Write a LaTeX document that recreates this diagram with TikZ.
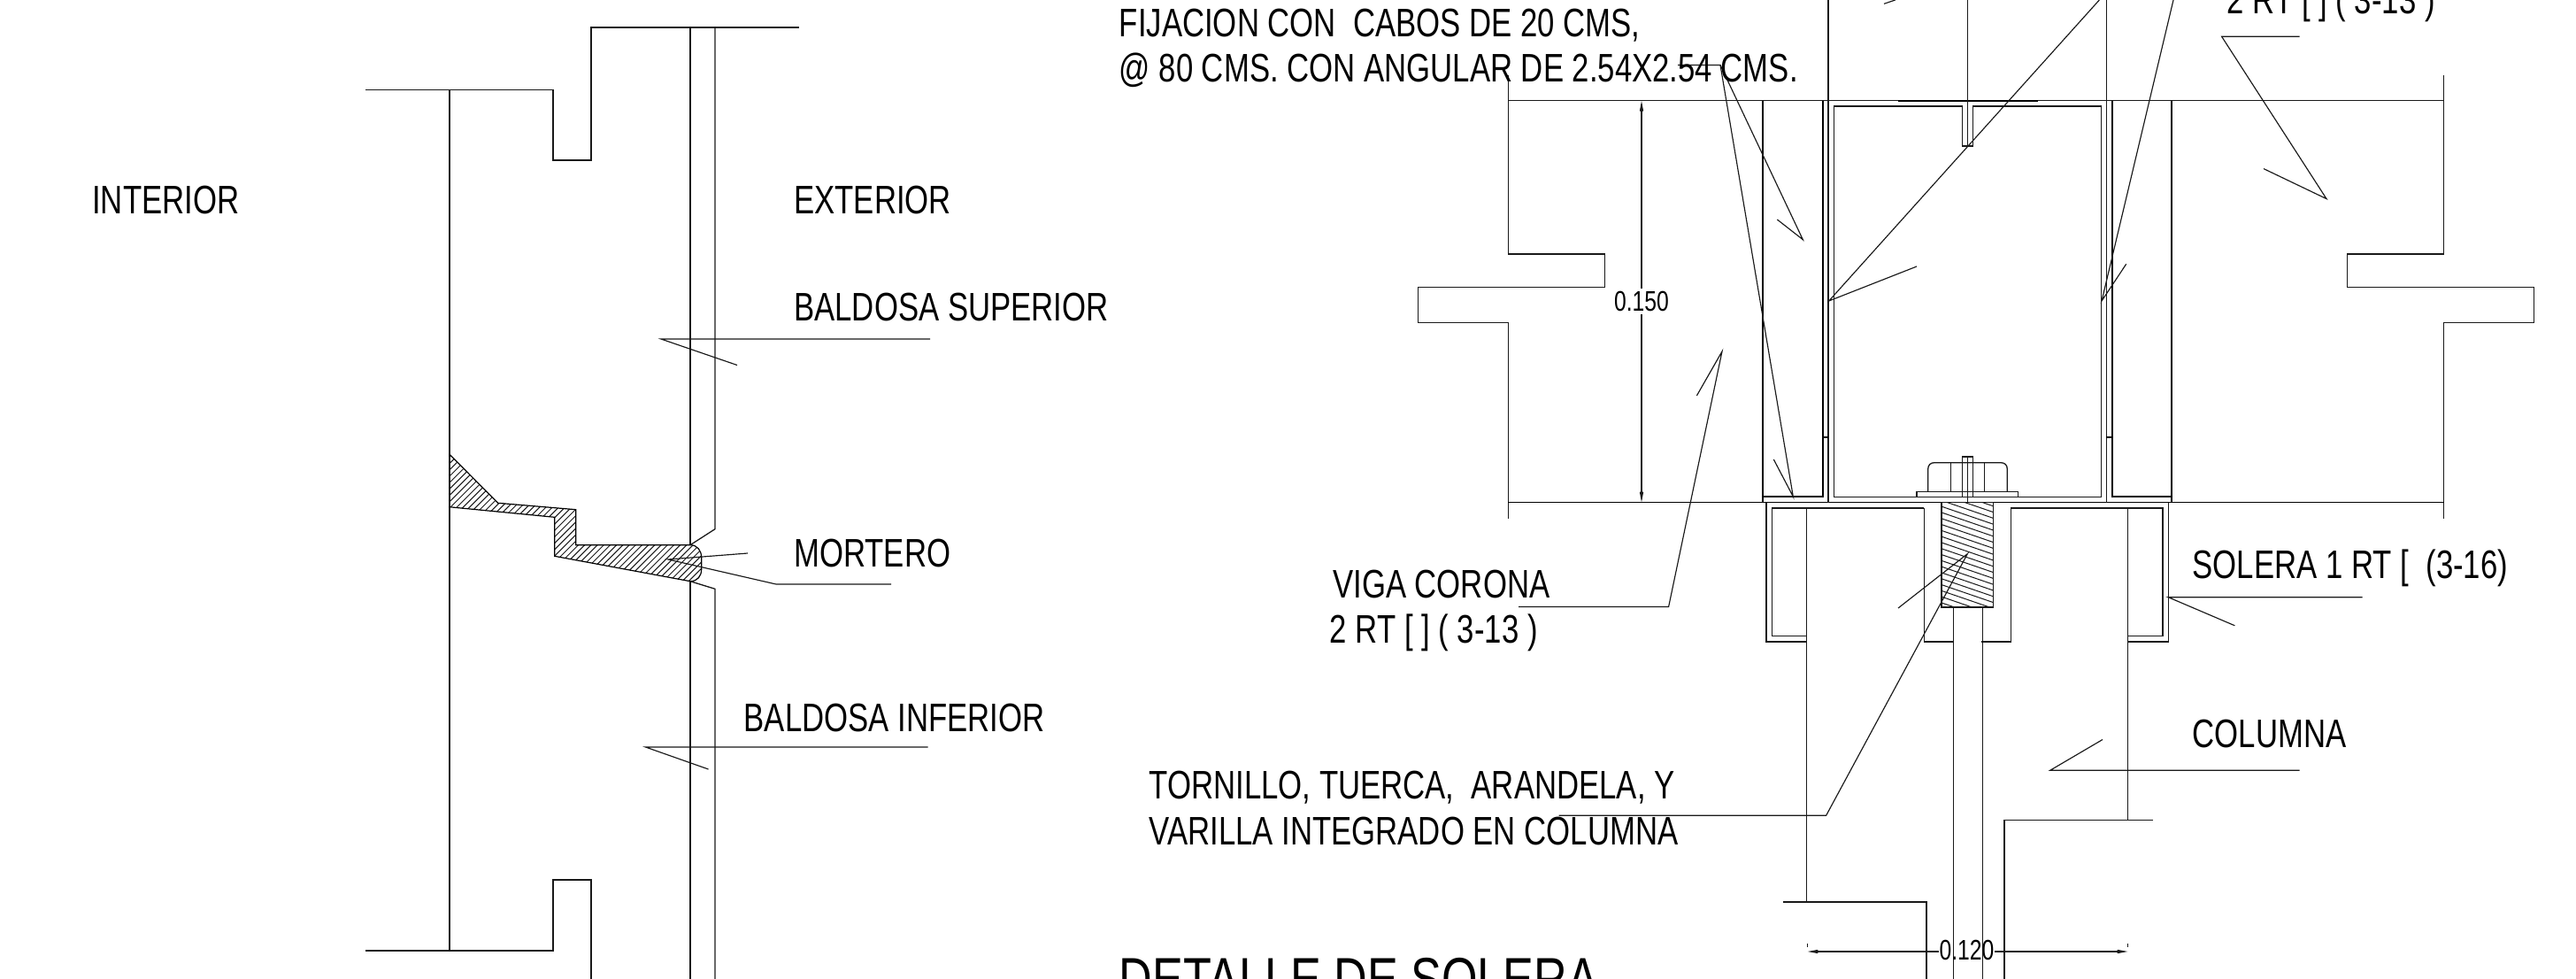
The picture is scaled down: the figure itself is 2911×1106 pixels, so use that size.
\documentclass[tikz,border=0pt]{standalone}
\usepackage{fontspec}
\setmainfont[FakeStretch=0.772]{Liberation Sans}
\usetikzlibrary{arrows.meta}
\tikzset{
  ln/.style={line width=0.65pt,draw=black!90,line cap=butt,line join=miter},
  thick line/.style={line width=1.05pt,draw=black},
  lead/.style={line width=0.58pt,draw=black!90},
  hatchline/.style={line width=0.5pt,draw=black!90},
  lab/.style={anchor=base west,inner sep=0pt,outer sep=0pt,xshift=-0.6pt,font=\fontsize{22.5}{22.5}\selectfont,text=black},
  dimlab/.style={anchor=base,inner sep=0pt,outer sep=0pt,font=\fontsize{16}{16}\selectfont,text=black},
  titlelab/.style={anchor=base west,inner sep=0pt,outer sep=0pt,xshift=-0.6pt,font=\fontsize{33.8}{33.8}\selectfont,text=black},
}
\begin{document}
\begin{tikzpicture}[x=0.5pt,y=-0.5pt]
\path[use as bounding box,fill=white] (0,0) rectangle (2911,1106);
\clip (0,0) rectangle (2911,1106);
% ---------- left detail
\draw[ln] (903,31) -- (668,31) -- (668,181) -- (625,181) -- (625,101.6) -- (413,101.6);
\draw[ln] (413,1074) -- (625,1074) -- (625,994) -- (668,994) -- (668,1106);
\draw[ln] (508,101.6) -- (508,1074);
\draw[ln] (780,31) -- (780,615.7);
\draw[ln] (780,656.7) -- (780,1106);
\draw[ln] (808,31) -- (808,597.7) -- (780,615.7);
\draw[ln] (780,656.7) -- (808,665.3) -- (808,1106);
% mortar
\begin{scope}
\clip (507.5,512.7) -- (562.7,568.3) -- (650.7,575.7) -- (650.7,615.7) -- (780,615.7)
  .. controls (788,615.7) and (792.7,622) .. (792.7,630) -- (792.7,643)
  .. controls (792.7,651) and (788,656.7) .. (780,656.7) -- (626.7,628.3) -- (626.7,584.3) -- (507.5,572.7) -- cycle;
\foreach \k in {10,17.2,...,460}
  \draw[hatchline] ({\k+300},700) -- ({\k+600},400);
\end{scope}
\draw[line width=0.6pt,draw=black] (507.5,512.7) -- (562.7,568.3) -- (650.7,575.7) -- (650.7,615.7) -- (780,615.7)
  .. controls (788,615.7) and (792.7,622) .. (792.7,630) -- (792.7,643)
  .. controls (792.7,651) and (788,656.7) .. (780,656.7) -- (626.7,628.3) -- (626.7,584.3) -- (507.5,572.7);
% leaders left
\draw[lead] (1051,383) -- (747,383) -- (833,412.5);
\draw[lead] (1007,660) -- (877,660) -- (755,632) -- (845,625);
\draw[lead] (1048.5,844) -- (729.5,844) -- (800.5,869);
% labels left
\node[lab] (interior) at (105.5,242) {INTERIOR};
\node[lab] (exterior) at (898.5,242) {EXTERIOR};
\node[lab] (bsup) at (898.5,362.5) {BALDOSA SUPERIOR};
\node[lab] (mortero) at (898.5,640) {MORTERO};
\node[lab] (binf) at (842,826.5) {BALDOSA INFERIOR};
% ---------- right detail: wall profile
\draw[ln] (1704.4,85) -- (1704.4,287) -- (1813.6,287) -- (1813.6,324.5) -- (1602.8,324.5) -- (1602.8,364.3) -- (1704.4,364.3) -- (1704.4,585.5);
\draw[ln] (2761.6,85) -- (2761.6,287) -- (2652.5,287) -- (2652.5,324.5) -- (2863.3,324.5) -- (2863.3,364.3) -- (2761.6,364.3) -- (2761.6,585.5);
\draw[ln] (1704.4,113.7) -- (2761.6,113.7);
\draw[line width=0.75pt,draw=black] (1704.4,567.7) -- (2761.6,567.7);
\draw[thick line] (2145,113.7) -- (2303,113.7);
% channels
\draw[thick line] (1992.3,113.7) -- (1992.3,567.7);
\draw[thick line] (1992.3,561) -- (2060,561) -- (2060,113.7);
\draw[thick line] (2454.3,113.7) -- (2454.3,567.7);
\draw[thick line] (2454.3,561) -- (2386.7,561) -- (2386.7,113.7);
\draw[ln] (2066,0) -- (2066,567.7);
\draw[ln] (2380.3,0) -- (2380.3,567.7);
\draw[thick line] (2060,494) -- (2066,494);
\draw[thick line] (2380.3,494) -- (2386.7,494);
% inner tube
\draw[ln] (2072.3,561.3) -- (2072.3,120) -- (2217.3,120) -- (2217.3,165) -- (2229.3,165) -- (2229.3,120) -- (2374.3,120) -- (2374.3,561.3) -- cycle;
\draw[ln] (2223.3,0) -- (2223.3,165);
% bolt
\draw[ln] (2166,555.7) rectangle (2280.7,561.3);
\draw[ln] (2178.7,555.7) -- (2178.7,530) .. controls (2178.7,525) and (2182,522.7) .. (2186,522.7) -- (2261,522.7) .. controls (2265,522.7) and (2268.3,525) .. (2268.3,530) -- (2268.3,555.7);
\draw[ln] (2204.3,522.7) -- (2204.3,555.7);
\draw[ln] (2242.7,522.7) -- (2242.7,555.7);
\draw[ln] (2217.3,561.3) -- (2217.3,516) -- (2229.3,516) -- (2229.3,561.3);
\draw[ln] (2223.3,516) -- (2223.3,567.7);
% solera
\draw[ln] (2041.7,725) -- (1996,725) -- (1996,567.7);
\draw[ln] (2041.7,718.7) -- (2002.3,718.7) -- (2002.3,574) -- (2174.3,574);
\draw[ln] (2404.7,725) -- (2450.3,725) -- (2450.3,567.7);
\draw[ln] (2404.7,718.7) -- (2444,718.7) -- (2444,574) -- (2272.3,574);
\draw[ln] (2174.3,574) -- (2174.3,725) -- (2206.7,725);
\draw[ln] (2272.3,574) -- (2272.3,725) -- (2239.3,725);
% column
\draw[ln] (2041.7,574) -- (2041.7,1019);
\draw[ln] (2014.8,1019) -- (2177,1019) -- (2177,1106);
\draw[ln] (2404.7,574) -- (2404.7,926.7);
\draw[line width=0.75pt,draw=black!90] (2433,926.7) -- (2264.8,926.7) -- (2264.8,1106);
\draw[ln] (2207.6,686) -- (2207.6,1106);
\draw[ln] (2240.5,686) -- (2240.5,1106);
% threaded block
\begin{scope}
\clip (2194,567.7) rectangle (2252.7,686);
\foreach \k in {530,536.8,...,700}
  \draw[hatchline] (2190,\k) -- (2260,{\k+24});
\end{scope}
\draw[ln] (2194,567.7) rectangle (2252.7,686);
% leaders right
\draw[lead] (1896,73.5) -- (1944,73.5) -- (2037.3,270.7) -- (2008.3,248);
\draw[lead] (1944,73.5) -- (2026.3,561) -- (2004.3,519);
\draw[lead] (2372.3,0) -- (2066.7,340) -- (2166,301);
\draw[lead] (2129,4.3) -- (2141.7,0);
\draw[lead] (2456,0) -- (2375,340) -- (2402.7,298.3);
\draw[lead] (2598.5,41.3) -- (2510.6,41.3) -- (2629,224.6) -- (2558,190.6);
\draw[lead] (1716,685.5) -- (1885.6,685.5) -- (1946,397) -- (1917.4,447);
\draw[lead] (2669.5,674.7) -- (2450.2,674.7) -- (2525.4,706.8);
\draw[lead] (2598.5,870.3) -- (2316.7,870.3) -- (2376,835.5);
\draw[lead] (1761.7,921.3) -- (2063.6,921.3) -- (2223.3,625.7) -- (2145,687);
% dimensions
\node[dimlab] (d150) at (1855,351.3) {0.150};
\node[dimlab] (d120) at (2222.5,1084.9) {0.120};
\draw[lead,-{Triangle[length=6pt,width=2pt]}] (1855,326) -- (1855,113.7);
\draw[lead,-{Triangle[length=6pt,width=2pt]}] (1855,355) -- (1855,567.7);
\draw[lead,-{Triangle[length=6pt,width=2pt]}] (2191,1075) -- (2042.4,1075);
\draw[lead,-{Triangle[length=6pt,width=2pt]}] (2254,1075) -- (2404.7,1075);
\draw[lead] (2042.4,1065.5) -- (2042.4,1070);
\draw[lead] (2404.7,1065.5) -- (2404.7,1070);
% labels right
\node[lab] (fij1) at (1266,42) {FIJACION CON\ \ CABOS DE 20 CMS,};
\node[lab] (fij2) at (1266,93) {@ 80 CMS. CON ANGULAR DE 2.54X2.54 CMS.};
\node[lab] (vigatop) at (2518,16) {2 RT [ ] ( 3-13 )};
\node[lab] (viga1) at (1507.4,675.9) {VIGA CORONA};
\node[lab] (viga2) at (1504,726) {2 RT [ ] ( 3-13 )};
\node[lab] (solera) at (2478.8,653.8) {SOLERA 1 RT [\ \ (3-16)};
\node[lab] (columna) at (2478.8,844.8) {COLUMNA};
\node[lab] (torn) at (1299.8,902.8) {TORNILLO, TUERCA,\ \ ARANDELA, Y};
\node[lab] (vari) at (1299.8,954.2) {VARILLA INTEGRADO EN COLUMNA};
\node[titlelab] (title) at (1266,1129) {DETALLE DE SOLERA};
\end{tikzpicture}
\end{document}
